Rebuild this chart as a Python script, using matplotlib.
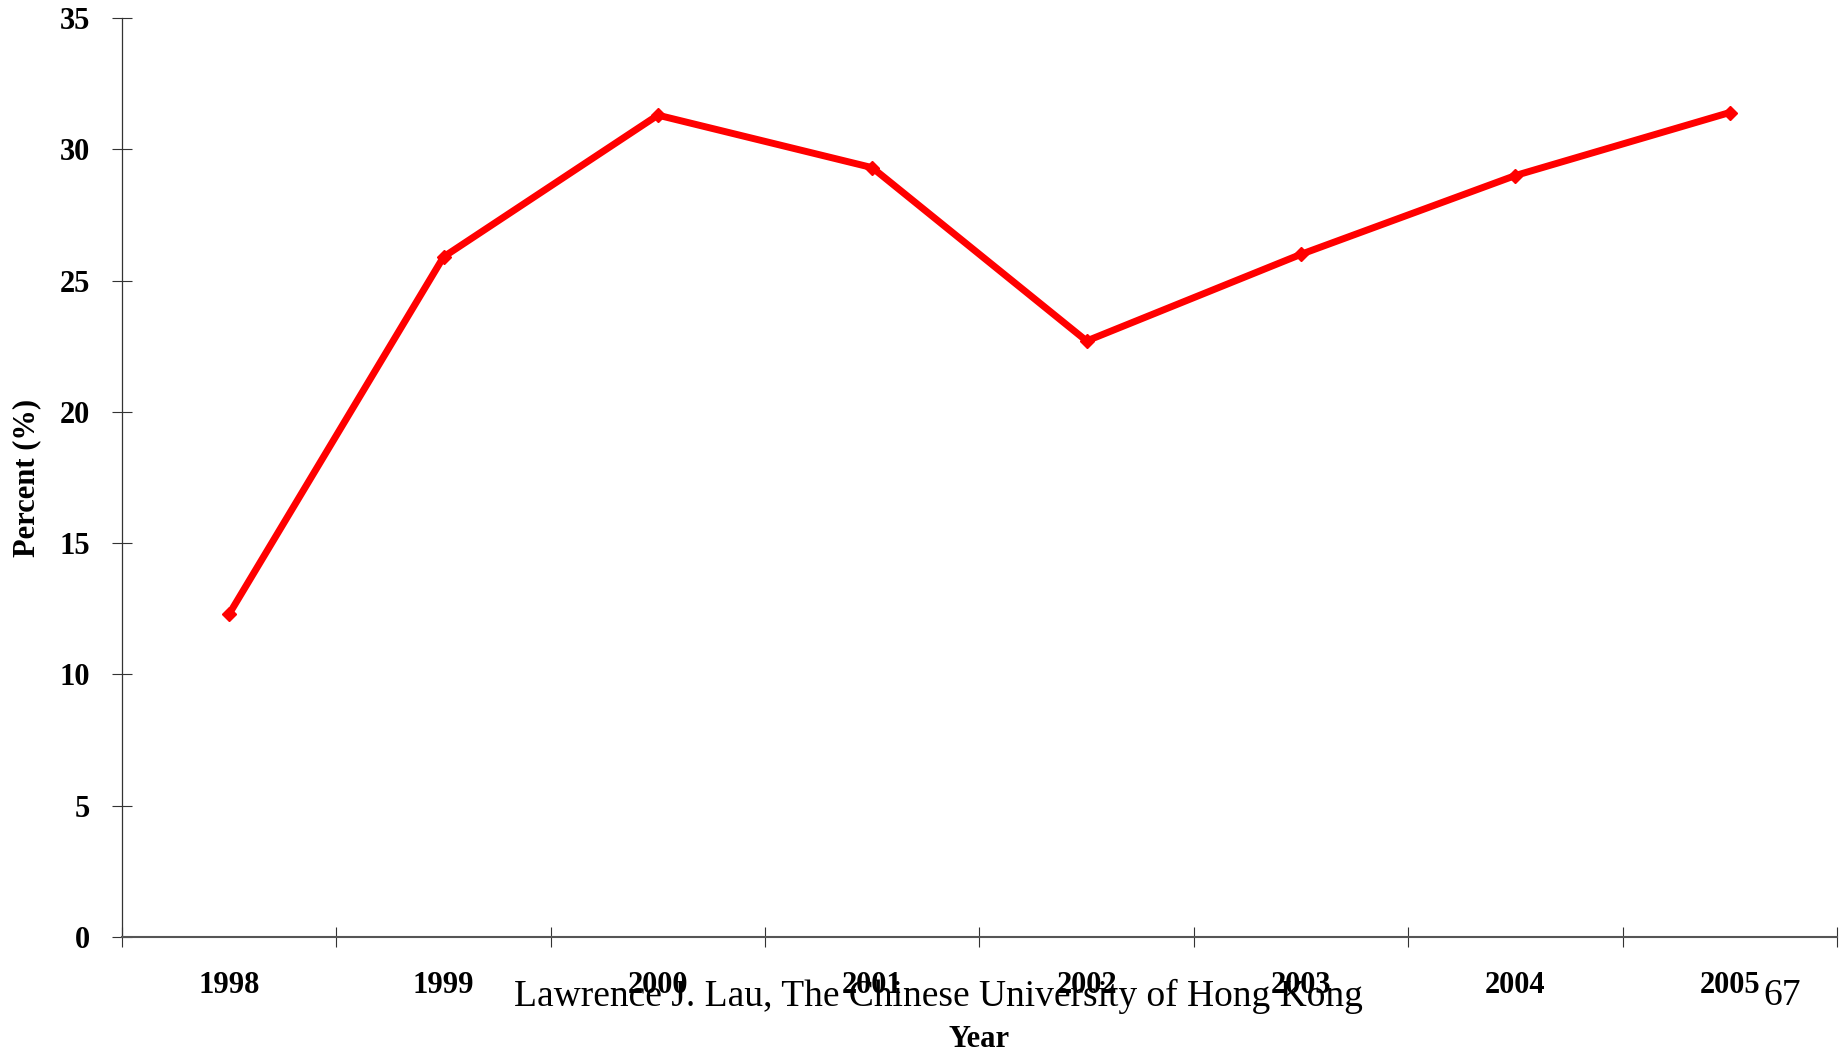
import matplotlib
matplotlib.use('Agg')
import matplotlib.pyplot as plt

plt.rcParams['font.family'] = ['Liberation Serif', 'DejaVu Serif']

years = ['1998', '1999', '2000', '2001', '2002', '2003', '2004', '2005']
percent = [12.3, 25.9, 31.3, 29.3, 22.7, 26.0, 29.0, 31.4]
y_ticks = [0, 5, 10, 15, 20, 25, 30, 35]

fig = plt.figure(figsize=(18.48, 10.52), dpi=100)
ax = fig.add_axes([0.066, 0.1093, 0.928, 0.8736])

xs = [i + 0.5 for i in range(len(years))]
ax.plot(xs, percent, color='#ff0000', lw=5, marker='D', ms=7,
        solid_joinstyle='miter')

ax.set_xlim(0, len(years))
ax.set_ylim(0, 35)

# category boundaries get the tick marks, centres get the labels
ax.set_xticks(range(len(years) + 1))
ax.set_xticklabels([])
ax.set_xticks(xs, minor=True)
ax.set_xticklabels(years, minor=True, fontsize=22, fontweight='bold')
ax.tick_params(axis='x', which='minor', length=0, pad=24.5)
ax.tick_params(axis='x', which='major', direction='inout', length=14.4,
               width=0.8, color='#333333')

ax.set_yticks(y_ticks)
ax.set_yticklabels([str(v) for v in y_ticks], fontsize=22, fontweight='bold')
ax.tick_params(axis='y', direction='inout', length=14.4, width=0.8,
               color='#333333', pad=16)

for side in ['top', 'right']:
    ax.spines[side].set_visible(False)
ax.spines['left'].set_color('#333333')
ax.spines['bottom'].set_color('#555555')
ax.spines['left'].set_linewidth(0.9)
ax.spines['bottom'].set_linewidth(1.5)

ax.set_xlabel('Year', fontsize=22, fontweight='bold')
ax.set_ylabel('Percent (%)', fontsize=22, fontweight='bold')
ax.xaxis.set_label_coords(0.5, -0.096)
ax.yaxis.set_label_coords(-0.047, 0.5)

fig.text(938 / 1848, 1 - 996 / 1052,
         'Lawrence J. Lau, The Chinese University of Hong Kong',
         fontsize=27, ha='center', va='center')
fig.text(1782 / 1848, 1 - 996 / 1052, '67', fontsize=27,
         ha='center', va='center')

fig.savefig('out.png', dpi=100)
